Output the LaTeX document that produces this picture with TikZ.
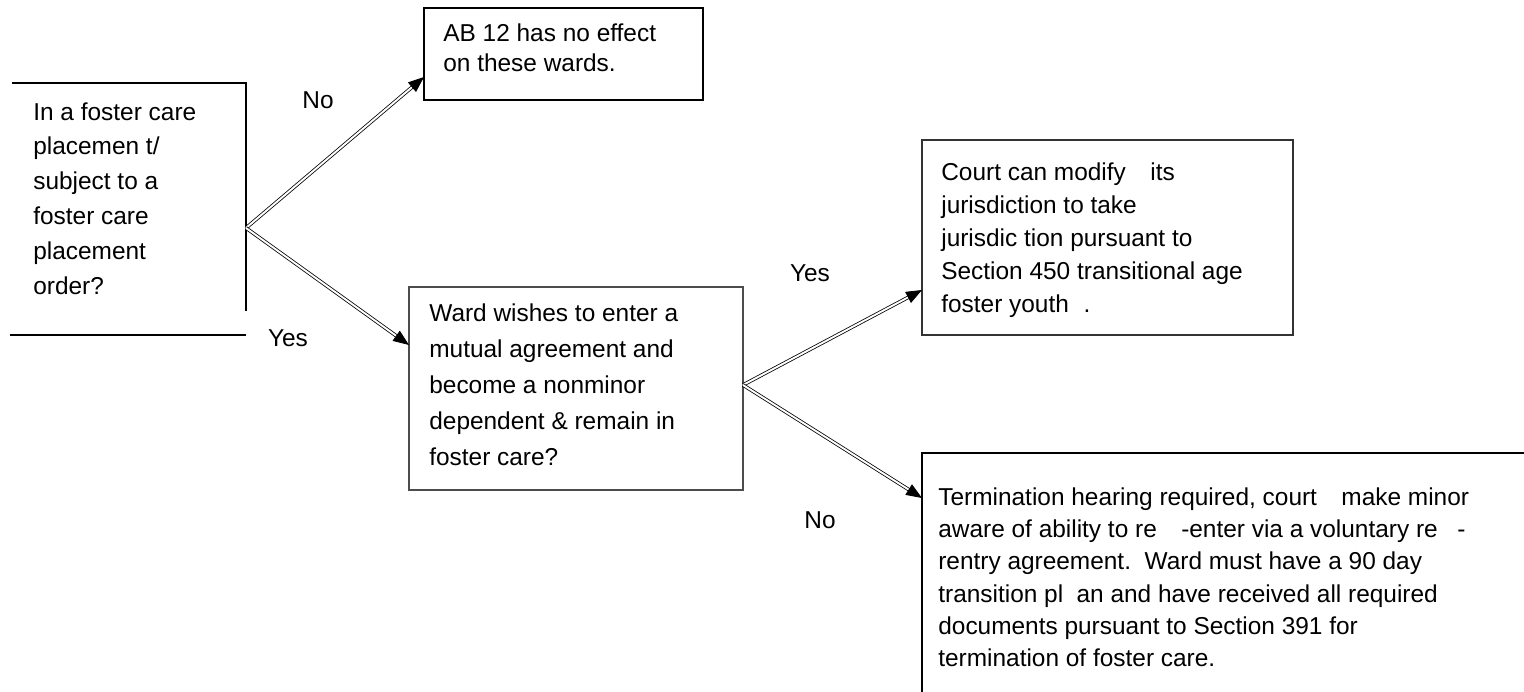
\documentclass[tikz,border=0pt]{standalone}
\usepackage{fontspec}
\setmainfont{Liberation Sans}
\usetikzlibrary{arrows.meta}

\tikzstyle{txt} = [style={anchor=north west, align=left, inner sep=0pt}]
\tikzstyle{lbl} = [style={inner sep=0pt, font=\fontsize{13.9}{18}\selectfont}]
\tikzstyle{dbl} = [style={double, double distance=1.1pt, line width=.45pt, -{Triangle[length=9pt,width=7pt]}}]
\tikzstyle{edge} = [style={line width=.6pt}]
\newcommand*{\fsz}{13.9}

\begin{document}
\begin{tikzpicture}[x=0.02cm,y=-0.02cm]
\useasboundingbox (0,0) rectangle (1524,692);

%% first question
\node [txt, font=\fontsize{\fsz}{19.9}\selectfont] (place) at (33,102)
  {In a foster care\\placemen t/\\subject to a\\foster care\\placement\\order?};
\draw [edge] (12,83) -- (246,83) -- (246,311)
  (10,335) -- (246,335);

%% no effect
\node [txt, font=\fontsize{\fsz}{17.1}\selectfont] (noeff) at (443,23)
  {AB 12 has no effect\\on these wards.};
\draw [edge] (424,8) rectangle (703,100);

%% second question
\node [txt, font=\fontsize{\fsz}{20.5}\selectfont] (ward) at (429,303)
  {Ward wishes to enter a\\mutual agreement and\\become a nonminor\\dependent \& remain in\\foster care?};
\draw [edge, black!70] (409,287) rectangle (743,490);

%% court can modify
\node [txt, font=\fontsize{\fsz}{18.8}\selectfont] (court) at (941,162)
  {Court can modify\quad its\\jurisdiction to take\\jurisdic tion pursuant to\\Section 450 transitional age\\foster youth\hspace{.6em}.};
\draw [edge, black!80] (922,140) rectangle (1293,335);

%% termination
\node [txt, font=\fontsize{\fsz}{18.4}\selectfont] (term) at (938,487)
  {Termination hearing required, court\quad make minor\\
   aware of ability to re\quad -enter via a voluntary re\hspace{.8em}-\\
   rentry agreement.\ \ Ward must have a 90 day\\
   transition pl\hspace{.55em}an and have received all required\\
   documents pursuant to Section 391 for\\
   termination of foster care.};
\draw [edge] (922,692) -- (922,453) -- (1524,453);

%% connectors
\coordinate (place-out) at (246,228);
\coordinate (ward-out) at (743,385);
\coordinate (noeff-in) at (424,77);
\coordinate (ward-in) at (409,345);
\coordinate (court-in) at (922,290);
\coordinate (term-in) at (922,498);

\draw [dbl] (place-out) to (noeff-in);
\draw [dbl] (place-out) to (ward-in);
\draw [dbl] (ward-out) to (court-in);
\draw [dbl] (ward-out) to (term-in);

\node [lbl] (no1) at (318,100) {No};
\node [lbl] (yes1) at (288,338) {Yes};
\node [lbl] (yes2) at (810,273) {Yes};
\node [lbl] (no2) at (820,520) {No};

\end{tikzpicture}
\end{document}
